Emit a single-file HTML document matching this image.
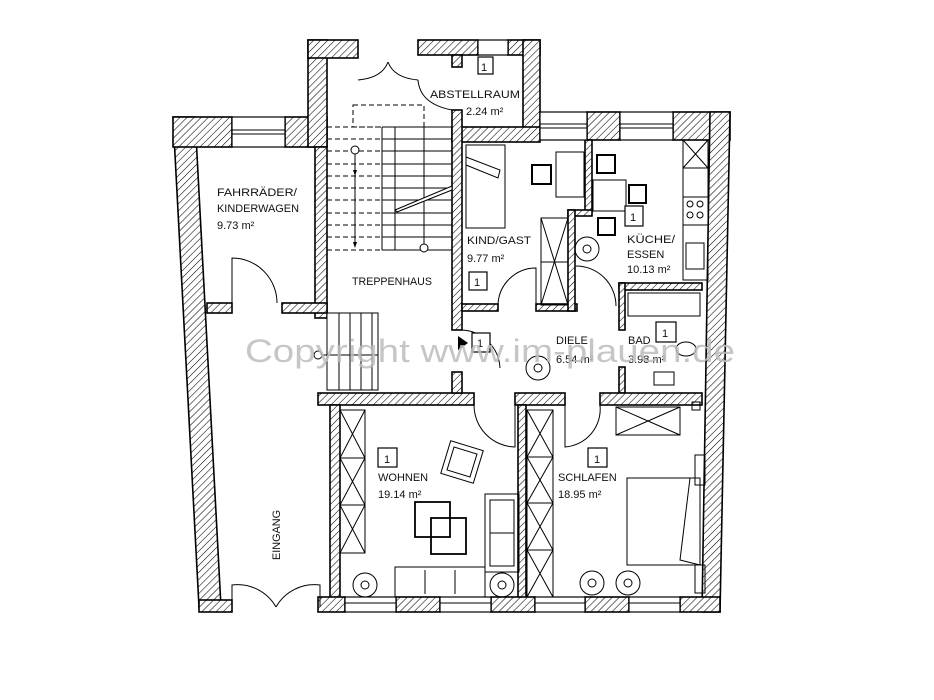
<!DOCTYPE html>
<html><head><meta charset="utf-8"><style>
html,body{margin:0;padding:0;background:#fff;}
svg{display:block;}
text{font-family:"Liberation Sans",sans-serif;font-size:11px;fill:#111;}
</style></head><body>
<svg width="934" height="700" viewBox="0 0 934 700" xmlns="http://www.w3.org/2000/svg">
<defs>
<pattern id="h" patternUnits="userSpaceOnUse" width="5" height="5" patternTransform="rotate(45)">
<rect width="5" height="5" fill="#fff"/><line x1="0" y1="0" x2="0" y2="5" stroke="#000" stroke-width="1.1"/>
</pattern>
</defs>
<rect width="934" height="700" fill="#fff"/>
<g fill="url(#h)" stroke="#000" stroke-width="1.6">
<polygon points="173,117 195,117 221,607 199,607"/>
<rect x="173" y="117" width="59" height="30"/>
<rect x="285" y="117" width="42" height="30"/>
<rect x="308" y="40" width="19" height="107"/>
<rect x="315" y="147" width="12" height="171"/>
<rect x="308" y="40" width="50" height="18"/>
<rect x="418" y="40" width="60" height="15"/>
<rect x="508" y="40" width="32" height="15"/>
<rect x="452" y="55" width="10" height="12"/>
<rect x="523" y="40" width="17" height="100"/>
<rect x="452" y="127" width="88" height="15"/>
<rect x="452" y="110" width="10" height="220"/>
<rect x="587" y="112" width="33" height="28"/>
<rect x="673" y="112" width="57" height="28"/>
<polygon points="710,112 730,112 720,612 702,612"/>
<rect x="207" y="303" width="25" height="10"/>
<rect x="282" y="303" width="45" height="10"/>
<rect x="462" y="304" width="36" height="7"/>
<rect x="536" y="304" width="41" height="7"/>
<rect x="585" y="140" width="7" height="72"/>
<rect x="568" y="210" width="24" height="6"/>
<rect x="568" y="210" width="7" height="101"/>
<rect x="619" y="283" width="83" height="7"/>
<rect x="619" y="283" width="6" height="47"/>
<rect x="619" y="367" width="6" height="26"/>
<rect x="318" y="393" width="156" height="12"/>
<rect x="515" y="393" width="50" height="12"/>
<rect x="600" y="393" width="102" height="12"/>
<rect x="452" y="372" width="10" height="21"/>
<rect x="330" y="405" width="10" height="195"/>
<rect x="518" y="405" width="8" height="195"/>
<rect x="318" y="597" width="27" height="15"/>
<rect x="396" y="597" width="44" height="15"/>
<rect x="491" y="597" width="44" height="15"/>
<rect x="585" y="597" width="44" height="15"/>
<rect x="680" y="597" width="40" height="15"/>
<rect x="199" y="600" width="33" height="12"/>
</g>
<g fill="#fff" stroke="#000" stroke-width="1.2">
<rect x="232" y="117" width="53" height="30"/>
<rect x="478" y="40" width="30" height="15"/>
<rect x="540" y="112" width="47" height="28"/>
<rect x="620" y="112" width="53" height="28"/>
<rect x="345" y="597" width="51" height="15"/>
<rect x="440" y="597" width="51" height="15"/>
<rect x="535" y="597" width="50" height="15"/>
<rect x="629" y="597" width="51" height="15"/>
</g>
<g stroke="#000" stroke-width="1">
<line x1="232" y1="130" x2="285" y2="130"/><line x1="232" y1="134" x2="285" y2="134"/>
<line x1="540" y1="124" x2="587" y2="124"/><line x1="540" y1="128" x2="587" y2="128"/>
<line x1="620" y1="124" x2="673" y2="124"/><line x1="620" y1="128" x2="673" y2="128"/>
<line x1="345" y1="603" x2="396" y2="603"/><line x1="440" y1="603" x2="491" y2="603"/>
<line x1="535" y1="603" x2="585" y2="603"/><line x1="629" y1="603" x2="680" y2="603"/>
</g>
<g stroke="#000" stroke-width="1" fill="none">
<rect x="353" y="105" width="71" height="22" stroke-dasharray="5,3"/>
<g stroke-dasharray="5,3">
<line x1="327" y1="127" x2="382" y2="127"/><line x1="327" y1="139" x2="382" y2="139"/>
<line x1="327" y1="151" x2="382" y2="151"/><line x1="327" y1="164" x2="382" y2="164"/>
<line x1="327" y1="176" x2="382" y2="176"/><line x1="327" y1="188" x2="382" y2="188"/>
<line x1="327" y1="200" x2="382" y2="200"/><line x1="327" y1="213" x2="382" y2="213"/>
<line x1="327" y1="225" x2="382" y2="225"/><line x1="327" y1="237" x2="382" y2="237"/>
<line x1="327" y1="250" x2="382" y2="250"/>
</g>
<line x1="382" y1="127" x2="452" y2="127"/><line x1="382" y1="139" x2="452" y2="139"/>
<line x1="382" y1="151" x2="452" y2="151"/><line x1="382" y1="164" x2="452" y2="164"/>
<line x1="382" y1="176" x2="452" y2="176"/><line x1="382" y1="188" x2="452" y2="188"/>
<line x1="382" y1="200" x2="452" y2="200"/><line x1="382" y1="213" x2="452" y2="213"/>
<line x1="382" y1="225" x2="452" y2="225"/><line x1="382" y1="237" x2="452" y2="237"/>
<line x1="382" y1="250" x2="452" y2="250"/>
<line x1="382" y1="127" x2="382" y2="250"/><line x1="395" y1="127" x2="395" y2="250"/><line x1="424" y1="127" x2="424" y2="250"/>
<line x1="355" y1="150" x2="355" y2="247"/>
<circle cx="355" cy="150" r="4" fill="#fff"/><circle cx="424" cy="248" r="4" fill="#fff"/>
<path d="M395,210 L452,186 L452,190 L397,212 Z" fill="#fff"/>
<rect x="327" y="313" width="51" height="77" fill="#fff"/>
<line x1="339" y1="313" x2="339" y2="390"/><line x1="350" y1="313" x2="350" y2="390"/>
<line x1="361" y1="313" x2="361" y2="390"/><line x1="372" y1="313" x2="372" y2="390"/>
<line x1="318" y1="355" x2="378" y2="355"/><circle cx="318" cy="355" r="4" fill="#fff"/>
</g>
<polygon points="353,170 357,170 355,176" fill="#000"/><polygon points="353,242 357,242 355,248" fill="#000"/>
<g stroke="#000" stroke-width="1" fill="none">
<path d="M358,80 Q382,78 388,62 M418,80 Q394,78 388,62"/>
<path d="M418,80 Q420,104 452,110"/>
<path d="M232,303 L232,258 A45,45 0 0 1 277,303"/>
<path d="M536,305 L536,268 A38,38 0 0 0 498,305"/>
<path d="M576,266 A40,40 0 0 1 616,306"/>
<path d="M462,330 A40,40 0 0 1 500,368"/>
<path d="M515,405 L515,447 A42,42 0 0 1 474,405"/>
<path d="M565,405 L565,447 A38,38 0 0 0 600,405"/>
<path d="M232,607 L232,585 A44,44 0 0 1 276,607 M320,607 L320,585 A44,44 0 0 0 276,607"/>
</g>
<g stroke="#000" stroke-width="1" fill="none">
<rect x="466" y="145" width="39" height="83"/><path d="M466,157 L500,170 L498,178 L466,165"/>
<rect x="541" y="218" width="27" height="87"/><path d="M541,218 L568,305 M568,218 L541,305 M541,262 L568,262"/>
<rect x="340" y="410" width="25" height="143"/><path d="M340,410 L365,458 L340,505 L365,553 M365,410 L340,458 L365,505 L340,553 M340,458 H365 M340,505 H365"/>
<rect x="527" y="410" width="26" height="187"/><path d="M527,410 L553,457 L527,503 L553,550 L527,597 M553,410 L527,457 L553,503 L527,550 L553,597 M527,457 H553 M527,503 H553 M527,550 H553"/>
<rect x="616" y="407" width="64" height="28"/><path d="M616,407 L680,435 M680,407 L616,435"/>
<rect x="683" y="140" width="25" height="140"/><path d="M683,140 L708,168 M708,140 L683,168 M683,168 H708 M683,197 H708 M683,225 H708"/>
<circle cx="690" cy="204" r="3"/><circle cx="700" cy="204" r="3"/><circle cx="690" cy="215" r="3"/><circle cx="700" cy="215" r="3"/>
<rect x="686" y="243" width="18" height="26"/>
<rect x="628" y="293" width="72" height="23"/>
<ellipse cx="686" cy="349" rx="10" ry="7"/><rect x="654" y="372" width="20" height="13"/>
<rect x="556" y="152" width="28" height="45"/>
<rect x="532" y="165" width="19" height="19" stroke-width="2"/>
<rect x="597" y="155" width="18" height="18" stroke-width="2"/>
<rect x="593" y="180" width="33" height="31"/>
<rect x="629" y="185" width="17" height="18" stroke-width="2"/>
<rect x="598" y="218" width="17" height="17" stroke-width="2"/>
<rect x="627" y="478" width="73" height="87"/><path d="M690,478 L680,560 L700,565"/>
<rect x="695" y="455" width="10" height="30"/><rect x="695" y="565" width="10" height="28"/>
<rect x="395" y="567" width="90" height="30"/><path d="M425,570 V594 M455,570 V594"/>
<rect x="485" y="494" width="34" height="78"/><rect x="490" y="500" width="24" height="66"/><path d="M490,533 H514"/>
<rect x="415" y="502" width="35" height="35" stroke-width="1.8"/>
<rect x="431" y="518" width="35" height="36" stroke-width="1.8"/>
<g transform="rotate(17 462 462)"><rect x="445" y="445" width="34" height="34"/><rect x="450" y="450" width="24" height="24"/></g>
<circle cx="365" cy="585" r="12"/><circle cx="365" cy="585" r="4"/>
<circle cx="502" cy="585" r="12"/><circle cx="502" cy="585" r="4"/>
<circle cx="592" cy="583" r="12"/><circle cx="592" cy="583" r="4"/>
<circle cx="628" cy="583" r="12"/><circle cx="628" cy="583" r="4"/>
<circle cx="538" cy="368" r="12"/><circle cx="538" cy="368" r="4"/>
<circle cx="587" cy="249" r="12"/><circle cx="587" cy="249" r="4"/>
<rect x="692" y="402" width="8" height="8"/>
</g>
<g fill="#fff" stroke="#000" stroke-width="1.2">
<rect x="478" y="57" width="15" height="17"/>
<rect x="469" y="272" width="18" height="18"/>
<rect x="625" y="206" width="18" height="20"/>
<rect x="472" y="333" width="18" height="19"/>
<rect x="656" y="322" width="20" height="20"/>
<rect x="378" y="448" width="19" height="19"/>
<rect x="588" y="448" width="19" height="19"/>
</g>
<polygon points="458,336 468,343 458,350" fill="#000"/>
<g style="font-size:12px">
<text x="481" y="71">1</text><text x="474" y="286">1</text><text x="630" y="221">1</text>
<text x="477" y="347">1</text><text x="662" y="337">1</text><text x="384" y="463">1</text><text x="594" y="463">1</text>
</g>
<text x="430" y="98" textLength="90" lengthAdjust="spacingAndGlyphs">ABSTELLRAUM</text>
<text x="466" y="115">2.24 m²</text>
<text x="217" y="196" textLength="80" lengthAdjust="spacingAndGlyphs">FAHRRÄDER/</text>
<text x="217" y="212" textLength="82" lengthAdjust="spacingAndGlyphs">KINDERWAGEN</text>
<text x="217" y="229">9.73 m²</text>
<text x="352" y="285" textLength="80" lengthAdjust="spacingAndGlyphs">TREPPENHAUS</text>
<text x="467" y="244" textLength="64" lengthAdjust="spacingAndGlyphs">KIND/GAST</text>
<text x="467" y="262">9.77 m²</text>
<text x="627" y="243" textLength="48" lengthAdjust="spacingAndGlyphs">KÜCHE/</text>
<text x="627" y="258">ESSEN</text>
<text x="627" y="273">10.13 m²</text>
<text x="556" y="344">DIELE</text>
<text x="556" y="363">6.54 m²</text>
<text x="628" y="344">BAD</text>
<text x="628" y="363">3.98 m²</text>
<text x="378" y="481">WOHNEN</text>
<text x="378" y="498">19.14 m²</text>
<text x="558" y="481">SCHLAFEN</text>
<text x="558" y="498">18.95 m²</text>
<text transform="translate(280,560) rotate(-90)" textLength="50" lengthAdjust="spacingAndGlyphs">EINGANG</text>
<text x="245" y="362" style="font-size:32px;fill:#bdbdbd;opacity:0.85" textLength="490" lengthAdjust="spacingAndGlyphs">Copyright www.im-plauen.de</text>
</svg>
</body></html>
